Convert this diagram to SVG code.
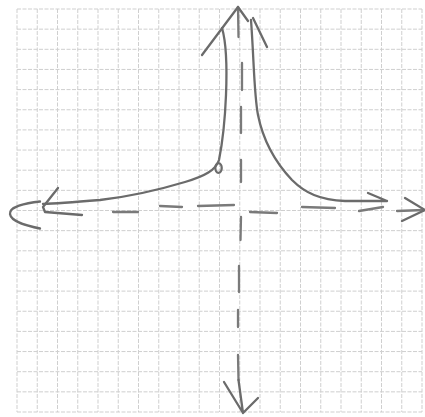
<svg xmlns="http://www.w3.org/2000/svg" width="425" height="417" viewBox="0 0 425 417">
<style>
.grid{stroke:#cfcfcf;stroke-width:1;fill:none;stroke-dasharray:4 1.5}
.pen{stroke:#6b6b6b;stroke-width:2.3;fill:none;stroke-linecap:round;stroke-linejoin:round}
.dash{stroke:#7a7a7a;stroke-width:2.3;fill:none;stroke-linecap:round}
</style>
<rect width="425" height="417" fill="#ffffff"/>
<g id="grid" class="grid">
<path d="M17,9V412M37.25,9V412M57.5,9V412M77.75,9V412M98,9V412M118.25,9V412M138.5,9V412M158.75,9V412M179,9V412M199.25,9V412M219.5,9V412M239.75,9V412M260,9V412M280.25,9V412M300.5,9V412M320.75,9V412M341,9V412M361.25,9V412M381.5,9V412M401.75,9V412M422,9V412"/>
<path d="M17,9H422M17,29.15H422M17,49.3H422M17,69.45H422M17,89.6H422M17,109.75H422M17,129.9H422M17,150.05H422M17,170.2H422M17,190.35H422M17,210.5H422M17,230.65H422M17,250.8H422M17,270.95H422M17,291.1H422M17,311.25H422M17,331.4H422M17,351.55H422M17,371.7H422M17,391.85H422M17,412H422"/>
</g>
<g id="y-axis">
<path class="dash" d="M238,7L238.5,37M242,63L242,90M241,107L241,133M241,160L241,182M241,217L240.5,240M239,266L239,292M238,310L238,327M238,355L238.5,380"/>
<path class="pen" d="M238.5,380L243,413M224,382L243,413L258,398"/>
</g>
<g id="x-axis">
<path class="dash" d="M113,212L138,212M160,206L182,207M198,206L234,205M250,212L277,213M302,207L335,208M359,211L383,207M397,211L424,210"/>
<path class="pen" d="M40,201.5C25,203 9,207 10,214C11,222 28,226 40,228.5"/>
<path class="pen" d="M405,198L425,210L402,221"/>
</g>
<g id="curve">
<path class="pen" d="M202,55L238,7L248,21M253,18L267,47"/>
<path class="pen" d="M222,28C227,45 227,70 226,95C225,120 223,140 219,160C216,170 205,176 185,182C165,188 135,196 100,200C75,202 55,203.5 43,204"/>
<path class="pen" d="M58,188L43,207L45,212L82,215"/>
<ellipse class="pen" cx="218.5" cy="168" rx="3.2" ry="4.8"/>
<path class="pen" d="M251,20C254,60 254,95 258,115C263,140 275,162 292,180C305,193 320,200 345,201L387,201M368,193L387,201"/>
</g>
</svg>
